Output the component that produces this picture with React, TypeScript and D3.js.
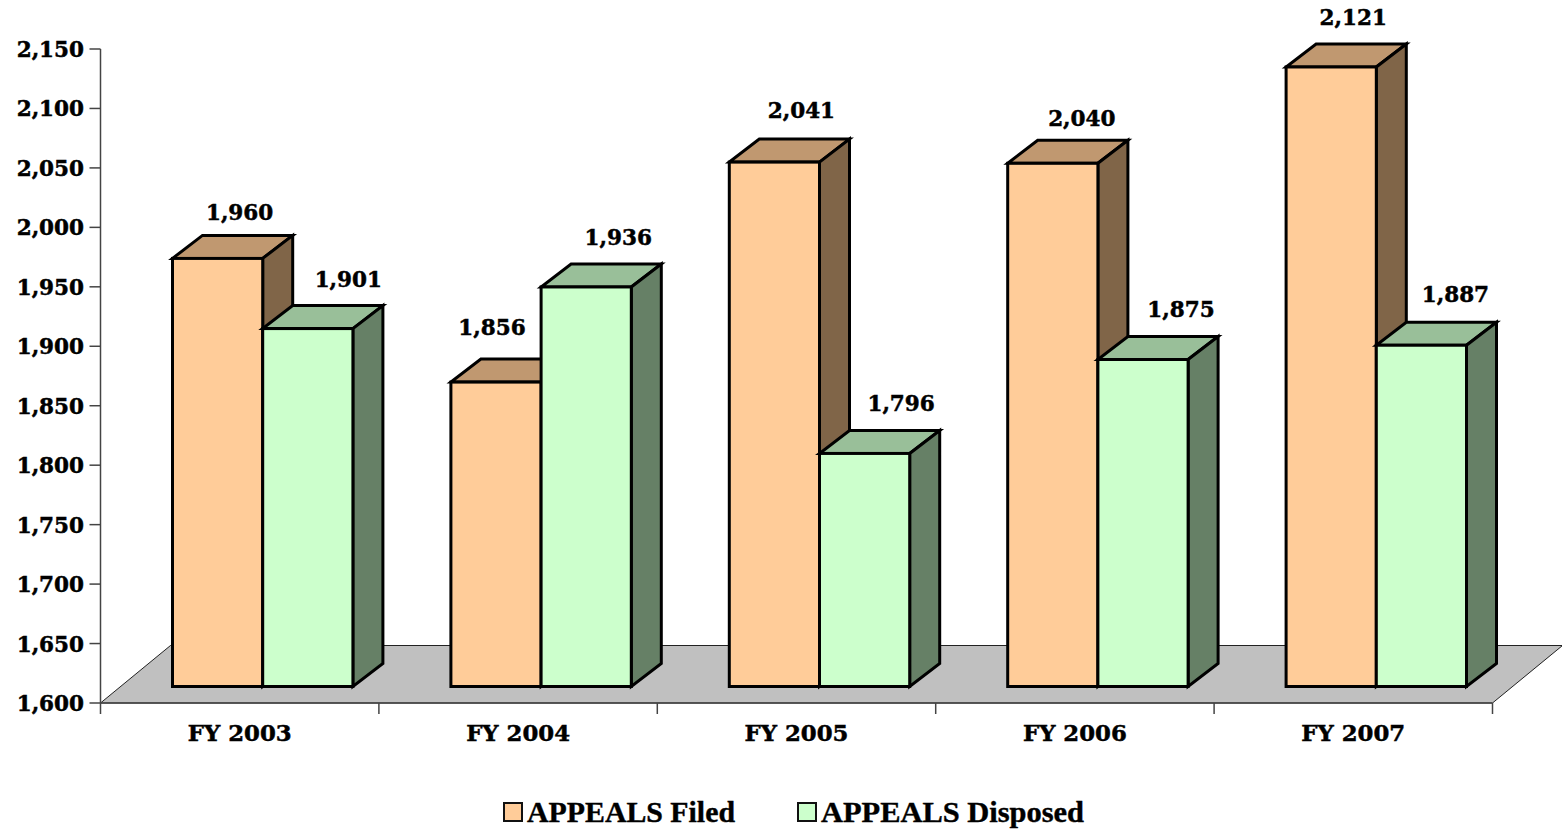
import React from "react";
import * as d3 from "d3";

const categories = ["FY 2003", "FY 2004", "FY 2005", "FY 2006", "FY 2007"];
const filedValues = [1960, 1856, 2041, 2040, 2121];
const disposedValues = [1901, 1936, 1796, 1875, 1887];
const tickValues = [1600, 1650, 1700, 1750, 1800, 1850, 1900, 1950, 2000, 2050, 2100, 2150];
const seriesNames = ["APPEALS Filed", "APPEALS Disposed"];

// small hand placement of the value labels, relative to the default spot
const filedNudge = [[0, 1], [-26, -8], [5, -5], [7, 2], [0, -3]];
const disposedNudge = [[9.5, -1], [1, -1], [5.5, -1], [7, -2], [3, -2]];

const W = 1562;
const H = 831;
const FONT = "'DejaVu Serif', serif";
const LEG = "'Liberation Serif', serif";

const DEPTH_X = 30;
const DEPTH_Y = 23;
const FRONT_LIFT = 16.5;
const FRONT_SHIFT = 72;
const BAR_W = 90.2;
const FLOOR_DX = 70;
const FLOOR_DY = 57.5;

const y = d3.scaleLinear().domain([1600, 2150]).range([703, 49]);
const x = d3.scaleBand<string>().domain(categories).range([100.5, 1492.5]);
const fmt = d3.format(",");

const colors = [
  { front: "#FFCC99", top: "#C09870", side: "#806548" },
  { front: "#CCFFCC", top: "#99BF99", side: "#668066" },
];

function pts(p: number[][]) {
  return p.map((q) => q.join(",")).join(" ");
}

function Bar({ left, value, c }: { left: number; value: number; c: typeof colors[0] }) {
  const b = y(1600) - FRONT_LIFT;
  const t = y(value) - FRONT_LIFT;
  const r = left + BAR_W;
  return (
    <g stroke="#000" strokeWidth={3} strokeLinejoin="miter">
      <polygon fill={c.top} points={pts([[left, t], [r, t], [r + DEPTH_X, t - DEPTH_Y], [left + DEPTH_X, t - DEPTH_Y]])} />
      <polygon fill={c.side} points={pts([[r, t], [r + DEPTH_X, t - DEPTH_Y], [r + DEPTH_X, b - DEPTH_Y], [r, b]])} />
      <rect x={left} y={t} width={BAR_W} height={b - t} fill={c.front} />
    </g>
  );
}

export default function App() {
  const y0 = y(1600);
  const x0 = x.range()[0];
  const x1 = x.range()[1];
  return (
    <svg
      width={W}
      height={H}
      style={{ position: "absolute", left: 0, top: 0, background: "#fff" }}
      fontFamily={FONT}
      fontWeight="bold"
    >
      <polygon
        fill="#C0C0C0"
        stroke="#222"
        strokeWidth={1}
        points={pts([[x0, y0], [x1, y0], [x1 + FLOOR_DX, y0 - FLOOR_DY], [x0 + FLOOR_DX, y0 - FLOOR_DY]])}
      />
      <g stroke="#444" strokeWidth={1.5} fill="none">
        <line x1={x0} x2={x0} y1={y(2150)} y2={y0 + 11} />
        <line x1={x0} x2={x1} y1={y0} y2={y0} />
        {tickValues.map((t) => (
          <line key={t} x1={x0 - 11} x2={x0} y1={y(t)} y2={y(t)} />
        ))}
        {categories.map((c) => (
          <line key={c} x1={x(c)! + x.bandwidth()} x2={x(c)! + x.bandwidth()} y1={y0} y2={y0 + 11} />
        ))}
      </g>
      <g stroke="#000" strokeWidth={0.5} fill="#000">
        {tickValues.map((t) => (
          <text key={t} x={84} y={y(t) + 8} textAnchor="end" fontSize={21.5}>
            {fmt(t)}
          </text>
        ))}
        {categories.map((c) => (
          <text key={c} x={x(c)! + x.bandwidth() / 2} y={741} textAnchor="middle" fontSize={22.8}>
            {c}
          </text>
        ))}
      </g>
      {categories.map((c, i) => {
        const l0 = x(c)! + FRONT_SHIFT;
        const l1 = l0 + BAR_W;
        return (
          <g key={c}>
            <Bar left={l0} value={filedValues[i]} c={colors[0]} />
            <Bar left={l1} value={disposedValues[i]} c={colors[1]} />
          </g>
        );
      })}
      {categories.map((c, i) => {
        const l0 = x(c)! + FRONT_SHIFT;
        const l1 = l0 + BAR_W;
        return (
          <g key={c} fontSize={21.5} fill="#000" stroke="#000" strokeWidth={0.5} textAnchor="middle">
            <text x={l0 + BAR_W / 2 + 22 + filedNudge[i][0]} y={y(filedValues[i]) - FRONT_LIFT - 39 + filedNudge[i][1]}>
              {fmt(filedValues[i])}
            </text>
            <text x={l1 + BAR_W / 2 + 31 + disposedNudge[i][0]} y={y(disposedValues[i]) - FRONT_LIFT - 41 + disposedNudge[i][1]}>
              {fmt(disposedValues[i])}
            </text>
          </g>
        );
      })}
      <g fontFamily={LEG} fontSize={30} fill="#000">
        <rect x={504} y={803} width={18} height={18} fill={colors[0].front} stroke="#111" strokeWidth={2} />
        <text x={527} y={822} stroke="#000" strokeWidth={0.4} textLength={208} lengthAdjust="spacingAndGlyphs">{seriesNames[0]}</text>
        <rect x={798} y={803} width={18} height={18} fill={colors[1].front} stroke="#111" strokeWidth={2} />
        <text x={821} y={822} stroke="#000" strokeWidth={0.4} textLength={263} lengthAdjust="spacingAndGlyphs">{seriesNames[1]}</text>
      </g>
    </svg>
  );
}
